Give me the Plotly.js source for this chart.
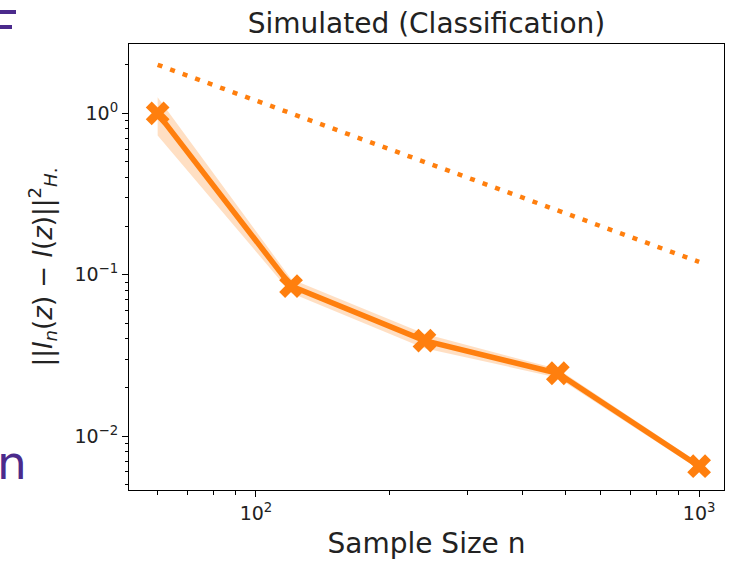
<!DOCTYPE html>
<html>
<head>
<meta charset="utf-8">
<script src="https://cdn.plot.ly/plotly-3.0.1.min.js"></script>
<style>
  html, body { margin: 0; padding: 0; background: #fff; }
  #wrap { position: relative; width: 730px; height: 562px; overflow: hidden; }
  #chart { position: absolute; left: 0; top: 0; width: 730px; height: 562px; }
  .slide { position: absolute; color: #4b2a8c; font-family: "DejaVu Sans", sans-serif; white-space: nowrap; }
  .bar { position: absolute; background: #4b2a8c; }
</style>
</head>
<body>
<div id="wrap">
  <div id="chart"></div>
  <div class="bar" style="left:0;top:10px;width:16px;height:4px;"></div>
  <div class="bar" style="left:0;top:25px;width:12px;height:4px;"></div>
  <div class="slide" style="left:-3px;top:435px;font-size:47px;line-height:56px;">n</div>
</div>
<script>
// ---- data ----
const sampleSizes = [60, 120, 240, 480, 1000];
const errorMean   = [1.0, 0.085, 0.039, 0.0245, 0.0065];
const errorUpper  = [1.26, 0.094, 0.043, 0.026, 0.0068];
const errorLower  = [0.73, 0.077, 0.035, 0.023, 0.0062];
const refX = [60, 1000];
const refY = [2.0, 0.12];
const xTickVals = [100, 1000];
const xTickText = ['10<sup>2</sup>', '10<sup>3</sup>'];
const yTickVals = [0.01, 0.1, 1];
const yTickText = ['10<sup>−2</sup>', '10<sup>−1</sup>', '10<sup>0</sup>'];

const orange = '#ff7f0e';

const bandX = sampleSizes.concat(sampleSizes.slice().reverse());
const bandY = errorUpper.concat(errorLower.slice().reverse());

const traces = [
  { x: bandX, y: bandY, type: 'scatter', mode: 'lines', fill: 'toself',
    fillcolor: 'rgba(255,127,14,0.25)', line: { width: 0 }, hoverinfo: 'skip', showlegend: false },
  { x: refX, y: refY, type: 'scatter', mode: 'lines',
    line: { color: orange, width: 4.5, dash: '5px,8.3px' }, showlegend: false },
  { x: sampleSizes, y: errorMean, type: 'scatter', mode: 'lines+markers',
    line: { color: orange, width: 5.5 },
    marker: { symbol: 'x', size: 21, color: orange }, showlegend: false }
];

const minorX = [60,70,80,90,200,300,400,500,600,700,800,900];
const minorY = [0.005,0.006,0.007,0.008,0.009,0.02,0.03,0.04,0.05,0.06,0.07,0.08,0.09,0.2,0.3,0.4,0.5,0.6,0.7,0.8,0.9,2];

const font = { family: 'DejaVu Sans, sans-serif', color: '#222' };

const layout = {
  width: 730, height: 562,
  margin: { l: 129, r: 6, t: 44, b: 72 },
  paper_bgcolor: '#fff', plot_bgcolor: '#fff',
  font: font,
  title: { text: 'Simulated (Classification)', font: { family: font.family, size: 28, color: '#222' },
           x: 0.5, xref: 'paper', y: 0.958, yanchor: 'middle' },
  xaxis: {
    type: 'log', range: [Math.log10(51.7), Math.log10(1138)],
    showgrid: false, zeroline: false,
    showline: true, linecolor: '#000', linewidth: 1, mirror: true,
    ticks: 'outside', ticklen: 6, tickcolor: '#000',
    tickvals: xTickVals, ticktext: xTickText,
    tickfont: { family: font.family, size: 19, color: '#222' },
    minor: { tickvals: minorX, ticks: 'outside', ticklen: 3.5, tickcolor: '#000', showgrid: false },
    title: { text: 'Sample Size n', font: { family: font.family, size: 28, color: '#222' }, standoff: 10 }
  },
  yaxis: {
    type: 'log', range: [Math.log10(0.00463), Math.log10(2.69)],
    showgrid: false, zeroline: false,
    showline: true, linecolor: '#000', linewidth: 1, mirror: true,
    ticks: 'outside', ticklen: 6, tickcolor: '#000',
    tickvals: yTickVals, ticktext: yTickText,
    tickfont: { family: font.family, size: 19, color: '#222' },
    minor: { tickvals: minorY, ticks: 'outside', ticklen: 3.5, tickcolor: '#000', showgrid: false },
    title: { text: '||<i>I</i><sub><i>n</i></sub>(<i>z</i>) − <i>I</i>(<i>z</i>)||<sup>2</sup><sub><i>H</i>.</sub>',
             font: { family: font.family, size: 26, color: '#222' }, standoff: 14 }
  }
};

Plotly.newPlot('chart', traces, layout, { displayModeBar: false, staticPlot: true });
</script>
</body>
</html>
